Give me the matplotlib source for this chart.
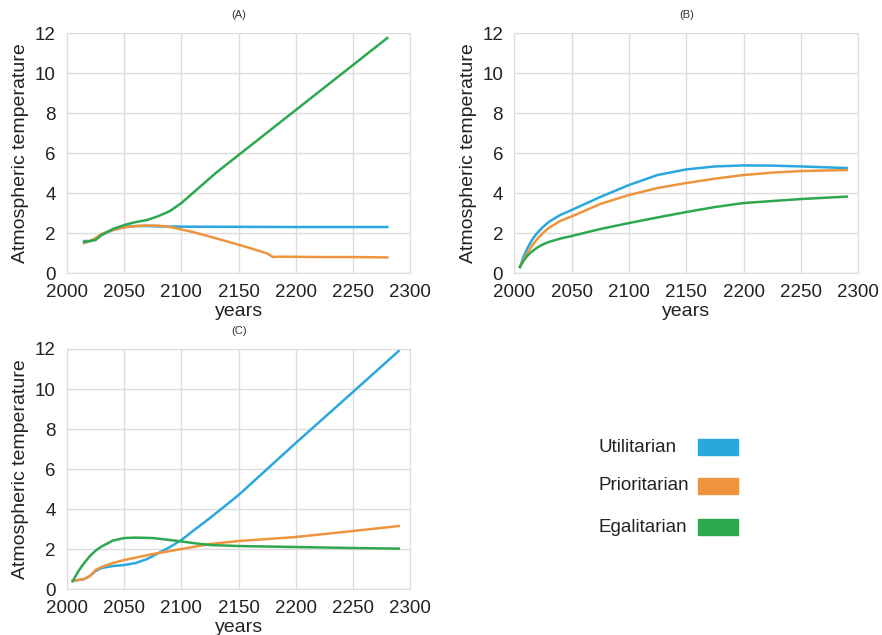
import numpy as np
import matplotlib.pyplot as plt
from matplotlib.patches import Rectangle

plt.rcParams['font.family'] = ['Liberation Sans', 'DejaVu Sans']

BLUE = '#2aa7dd'
ORANGE = '#ef943e'
GREEN = '#2ea84f'

# (A)
a_util_x = [2015, 2020, 2025, 2030, 2040, 2050, 2060, 2070, 2080, 2100, 2150, 2200, 2250, 2280]
a_util_y = [1.6, 1.6, 1.7, 1.9, 2.15, 2.3, 2.35, 2.35, 2.33, 2.32, 2.31, 2.3, 2.3, 2.3]
a_prio_x = [2015, 2020, 2025, 2030, 2040, 2050, 2060, 2070, 2080, 2090, 2100, 2110, 2120,
            2140, 2160, 2175, 2180, 2185, 2220, 2250, 2280]
a_prio_y = [1.5, 1.6, 1.75, 1.95, 2.15, 2.28, 2.35, 2.38, 2.37, 2.3, 2.18, 2.05, 1.9,
            1.58, 1.25, 0.98, 0.8, 0.82, 0.8, 0.8, 0.78]
a_egal_x = [2015, 2020, 2025, 2030, 2040, 2050, 2060, 2070, 2080, 2090, 2100, 2110, 2120,
            2130, 2140, 2150, 2200, 2250, 2280]
a_egal_y = [1.55, 1.6, 1.65, 1.9, 2.2, 2.4, 2.55, 2.65, 2.85, 3.1, 3.5, 4.0, 4.5,
            5.0, 5.45, 5.9, 8.15, 10.4, 11.75]

# (B)
b_x = [2005, 2008, 2012, 2016, 2020, 2025, 2030, 2040, 2050, 2075, 2100, 2125, 2150, 2175,
       2200, 2225, 2250, 2290]
b_util_y = [0.3, 0.8, 1.3, 1.7, 2.0, 2.3, 2.55, 2.9, 3.15, 3.8, 4.4, 4.9, 5.18, 5.33,
            5.38, 5.37, 5.33, 5.25]
b_prio_y = [0.3, 0.65, 1.05, 1.4, 1.7, 2.0, 2.25, 2.6, 2.83, 3.45, 3.9, 4.25, 4.5, 4.72,
            4.9, 5.02, 5.1, 5.15]
b_egal_y = [0.3, 0.6, 0.9, 1.1, 1.27, 1.43, 1.55, 1.72, 1.85, 2.2, 2.5, 2.78, 3.05, 3.3,
            3.5, 3.6, 3.7, 3.82]

# (C)
c_util_x = [2005, 2015, 2020, 2025, 2030, 2040, 2050, 2060, 2070, 2080, 2090, 2100, 2110,
            2125, 2150, 2200, 2250, 2290]
c_util_y = [0.4, 0.5, 0.65, 0.9, 1.05, 1.15, 1.2, 1.3, 1.5, 1.8, 2.1, 2.45, 2.9,
            3.55, 4.7, 7.3, 9.85, 11.9]
c_prio_x = [2005, 2015, 2020, 2025, 2030, 2040, 2050, 2075, 2100, 2125, 2150, 2200, 2250, 2290]
c_prio_y = [0.4, 0.5, 0.65, 0.95, 1.1, 1.3, 1.45, 1.75, 2.0, 2.25, 2.4, 2.6, 2.9, 3.15]
c_egal_x = [2005, 2010, 2015, 2020, 2025, 2030, 2040, 2050, 2060, 2075, 2090, 2100, 2110,
            2125, 2150, 2200, 2250, 2290]
c_egal_y = [0.4, 0.9, 1.3, 1.65, 1.92, 2.12, 2.42, 2.55, 2.57, 2.55, 2.45, 2.38, 2.3,
            2.2, 2.15, 2.1, 2.05, 2.02]

labels = ['Utilitarian', 'Prioritarian', 'Egalitarian']
colors = [BLUE, ORANGE, GREEN]

panels = [
    ('(A)', [0.076, 0.570, 0.389, 0.378],
     [(a_util_x, a_util_y), (a_prio_x, a_prio_y), (a_egal_x, a_egal_y)]),
    ('(B)', [0.583, 0.570, 0.390, 0.378],
     [(b_x, b_util_y), (b_x, b_prio_y), (b_x, b_egal_y)]),
    ('(C)', [0.076, 0.0724, 0.389, 0.378],
     [(c_util_x, c_util_y), (c_prio_x, c_prio_y), (c_egal_x, c_egal_y)]),
]

fig = plt.figure(figsize=(8.82, 6.35), dpi=100)

for title, rect, series in panels:
    ax = fig.add_axes(rect)
    for (x, y), c in zip(series, colors):
        ax.plot(x, y, color=c, lw=1.8)
    ax.set_xlim(2000, 2300)
    ax.set_ylim(0, 12)
    ax.set_xticks(np.arange(2000, 2301, 50))
    ax.set_yticks(np.arange(0, 13, 2))
    ax.grid(True, color='#dcdcdc', lw=1)
    ax.set_axisbelow(True)
    for s in ax.spines.values():
        s.set_color('#dcdcdc')
    ax.tick_params(length=0, labelsize=13.5, colors='#222222')
    ax.tick_params(axis='x', pad=8)
    ax.tick_params(axis='y', pad=8)
    ax.set_xlabel('years', fontsize=14, color='#222222', labelpad=1)
    ax.set_ylabel('Atmospheric temperature', fontsize=14, color='#222222', labelpad=4)
    ax.set_title(title, fontsize=8, color='#333333', pad=11)

# legend on the right, bottom
rows_y = [447, 486, 527]
for lab, c, yp in zip(labels, colors, rows_y):
    fy = 1 - yp / 635
    fig.text(598 / 882, fy, lab, fontsize=13.5, color='#222222', va='center', ha='left')
    fig.add_artist(Rectangle((698 / 882, fy - 8 / 635), 40 / 882, 16 / 635,
                             transform=fig.transFigure, color=c))

fig.savefig('out.png', dpi=100)
